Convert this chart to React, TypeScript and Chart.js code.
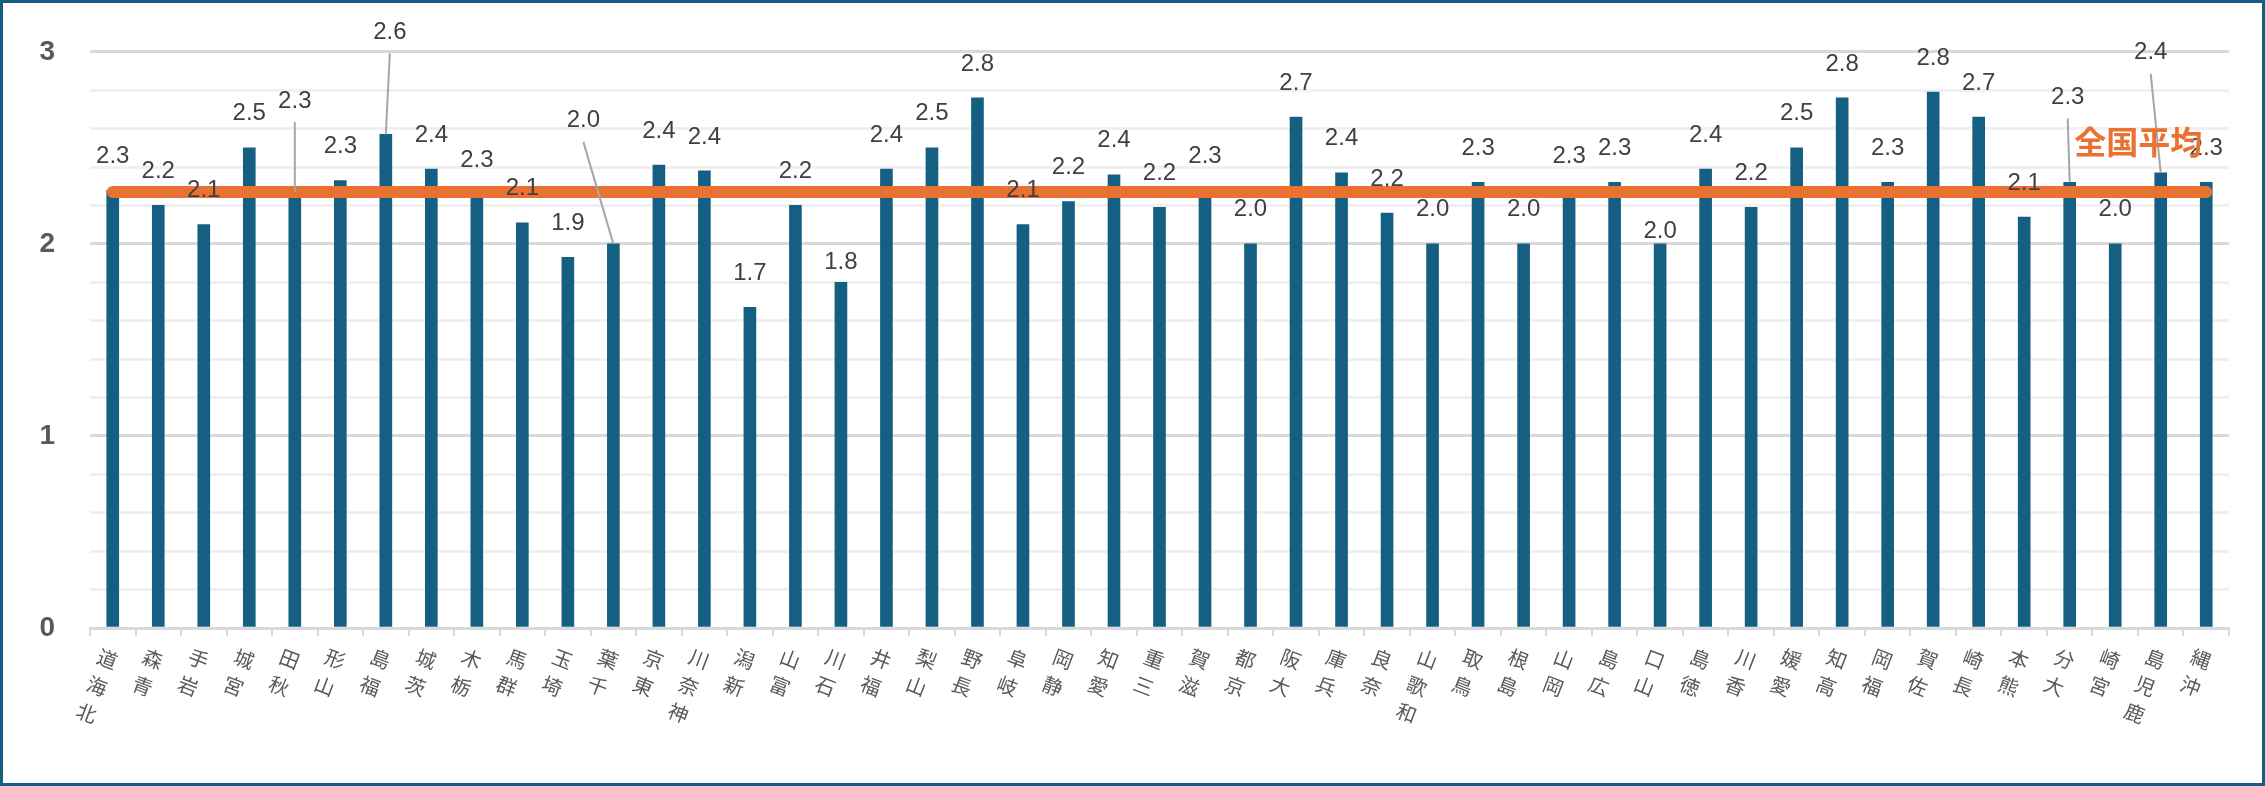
import React, { useEffect, useRef } from 'react';
import { Chart, registerables } from 'chart.js';

Chart.register(...registerables);

// ---- data ----
const PREFECTURES: string[] = [
  '北海道', '青森', '岩手', '宮城', '秋田', '山形', '福島', '茨城', '栃木', '群馬',
  '埼玉', '千葉', '東京', '神奈川', '新潟', '富山', '石川', '福井', '山梨', '長野',
  '岐阜', '静岡', '愛知', '三重', '滋賀', '京都', '大阪', '兵庫', '奈良', '和歌山',
  '鳥取', '島根', '岡山', '広島', '山口', '徳島', '香川', '愛媛', '高知', '福岡',
  '佐賀', '長崎', '熊本', '大分', '宮崎', '鹿児島', '沖縄',
];
const VALUES: number[] = [
  2.28, 2.20, 2.10, 2.50, 2.27, 2.33, 2.57, 2.39, 2.26, 2.11,
  1.93, 2.00, 2.41, 2.38, 1.67, 2.20, 1.80, 2.39, 2.50, 2.76,
  2.10, 2.22, 2.36, 2.19, 2.28, 2.00, 2.66, 2.37, 2.16, 2.00,
  2.32, 2.00, 2.28, 2.32, 2.00, 2.39, 2.19, 2.50, 2.76, 2.32,
  2.79, 2.66, 2.14, 2.32, 2.00, 2.37, 2.32,
];
const NATIONAL_AVERAGE = 2.27;
const AVERAGE_LABEL = '全国平均';
const Y_TICK_LABELS: number[] = [0, 1, 2, 3];

// ---- styles ----
const W = 2265;
const H = 786;
const BAR_COLOR = '#156082';
const AVG_COLOR = '#E97132';
const DEFAULT_LABEL_DY = -34;
// manually moved data labels (pixel nudges from bar top), some with leader lines
const LABEL_NUDGES: Record<number, { dx: number; dy: number; leader?: boolean }> = {
  4: { dx: 0, dy: -91, leader: true },
  6: { dx: 4, dy: -102, leader: true },
  11: { dx: -30, dy: -123, leader: true },
  16: { dx: 0, dy: -20 },
  34: { dx: 0, dy: -12 },
  43: { dx: -2, dy: -85, leader: true },
  45: { dx: -10, dy: -120, leader: true },
};

const labelPlugin = {
  id: 'valueLabels',
  afterDatasetsDraw(chart: any) {
    const ctx = chart.ctx;
    const meta = chart.getDatasetMeta(1);
    ctx.save();
    ctx.textAlign = 'center';
    ctx.textBaseline = 'middle';
    ctx.font = '24px "Liberation Sans", Arial, sans-serif';
    meta.data.forEach((bar: any, i: number) => {
      const n = LABEL_NUDGES[i] || { dx: 0, dy: DEFAULT_LABEL_DY };
      const lx = bar.x + n.dx;
      const ly = bar.y + n.dy;
      if (n.leader) {
        ctx.strokeStyle = '#a6a6a6';
        ctx.lineWidth = 2;
        ctx.beginPath();
        ctx.moveTo(lx, ly + 21);
        ctx.lineTo(bar.x, bar.y);
        ctx.stroke();
      }
      ctx.fillStyle = '#404040';
      ctx.fillText(VALUES[i].toFixed(1), lx, ly);
    });
    const lm = chart.getDatasetMeta(0);
    const last = lm.data[lm.data.length - 1];
    if (last) {
      ctx.font = 'bold 32px "Noto Sans CJK JP", sans-serif';
      ctx.fillStyle = AVG_COLOR;
      ctx.textAlign = 'right';
      ctx.fillText(AVERAGE_LABEL, last.x - 4, last.y - 50);
    }
    ctx.restore();
  },
};

export default function App() {
  const ref = useRef<HTMLCanvasElement | null>(null);

  useEffect(() => {
    if (!ref.current) return;
    const chart = new Chart(ref.current, {
      type: 'bar',
      data: {
        labels: PREFECTURES,
        datasets: [
          {
            type: 'line',
            data: PREFECTURES.map(() => NATIONAL_AVERAGE),
            borderColor: AVG_COLOR,
            backgroundColor: AVG_COLOR,
            borderWidth: 12,
            borderCapStyle: 'round',
            pointRadius: 0,
            order: 1,
          } as any,
          {
            type: 'bar',
            data: VALUES,
            backgroundColor: BAR_COLOR,
            barThickness: 12,
            order: 2,
          } as any,
        ],
      },
      options: {
        animation: false,
        responsive: false,
        maintainAspectRatio: false,
        layout: { padding: { top: 48, right: 36, left: 0, bottom: 0 } },
        plugins: { legend: { display: false }, tooltip: { enabled: false } },
        scales: {
          x: {
            offset: true,
            grid: {
              offset: true,
              drawOnChartArea: false,
              drawTicks: true,
              tickLength: 8,
              color: '#d9d9d9',
              lineWidth: 2,
            },
            border: { display: true, color: '#d9d9d9', width: 3 },
            ticks: {
              autoSkip: false,
              minRotation: -21,
              maxRotation: -21,
              padding: 13,
              labelOffset: 4,
              color: '#595959',
              font: { family: '"Noto Sans CJK JP", sans-serif', size: 20, lineHeight: 1.45 },
              callback: (_v: any, i: number) => PREFECTURES[i].split('').reverse(),
            },
            afterFit: (s: any) => {
              s.height = H - 628;
            },
          },
          y: {
            min: 0,
            max: 3,
            border: { display: false },
            grid: {
              drawTicks: false,
              lineWidth: 3,
              color: (c: any) => {
                const v = c.tick ? c.tick.value : 0;
                return Math.abs(v - Math.round(v)) < 1e-6 ? '#d9d9d9' : '#f0f0f0';
              },
            },
            ticks: {
              stepSize: 0.2,
              padding: 35,
              color: '#595959',
              font: { family: '"Liberation Sans", Arial, sans-serif', size: 28, weight: 'bold' },
              callback: (v: any) => {
                const r = Math.round(v);
                return Math.abs(v - r) < 1e-6 && Y_TICK_LABELS.includes(r) ? String(r) : '';
              },
            },
            afterFit: (s: any) => {
              s.width = 90;
            },
          },
        },
      } as any,
      plugins: [labelPlugin],
    });
    return () => chart.destroy();
  }, []);

  return (
    <div style={{ position: 'fixed', left: 0, top: 0, width: W, height: H, background: '#fff' }}>
      <canvas ref={ref} width={W} height={H} style={{ width: W, height: H, display: 'block' }} />
      <div
        style={{
          position: 'absolute',
          left: 0,
          top: 0,
          width: W,
          height: H,
          boxSizing: 'border-box',
          border: `3px solid ${BAR_COLOR}`,
          pointerEvents: 'none',
        }}
      />
    </div>
  );
}
